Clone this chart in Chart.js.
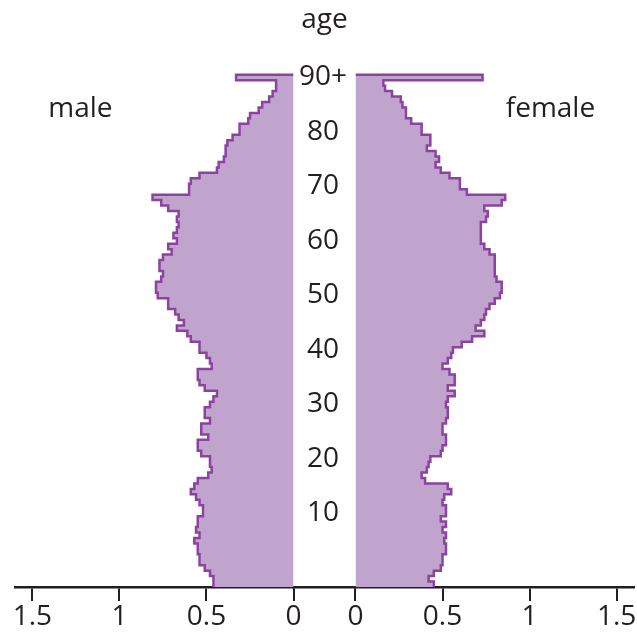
<!DOCTYPE html>
<html>
<head>
<meta charset="utf-8">
<script src="https://cdn.jsdelivr.net/npm/chart.js@4.4.1/dist/chart.umd.min.js"></script>
<style>
    html, body { margin: 0; padding: 0; background: #fff; }
    #pyramid { display: block; }
</style>
</head>
<body>
<canvas id="pyramid" width="637" height="641"></canvas>
<script>
// share of population by single year of age, lowest bar first, last bar is 90+
const male = [
    0.46, 0.46, 0.48, 0.51, 0.54, 0.54, 0.55, 0.55, 0.57, 0.54,
    0.56, 0.55, 0.55, 0.52, 0.52, 0.54, 0.56, 0.59, 0.57, 0.55,
    0.49, 0.47, 0.48, 0.48, 0.53, 0.55, 0.55, 0.49, 0.53, 0.53,
    0.48, 0.51, 0.51, 0.48, 0.46, 0.44, 0.51, 0.54, 0.55, 0.55,
    0.47, 0.48, 0.50, 0.54, 0.54, 0.59, 0.61, 0.67, 0.63, 0.66,
    0.68, 0.72, 0.72, 0.78, 0.79, 0.79, 0.76, 0.75, 0.77, 0.77,
    0.75, 0.70, 0.72, 0.67, 0.69, 0.67, 0.66, 0.67, 0.66, 0.72,
    0.76, 0.81, 0.60, 0.60, 0.59, 0.54, 0.44, 0.43, 0.40, 0.39,
    0.39, 0.38, 0.35, 0.31, 0.31, 0.26, 0.25, 0.20, 0.18, 0.14,
    0.12, 0.10, 0.10, 0.33
];
const female = [
    0.45, 0.42, 0.45, 0.49, 0.50, 0.50, 0.52, 0.52, 0.51, 0.52,
    0.50, 0.52, 0.49, 0.52, 0.52, 0.50, 0.51, 0.55, 0.53, 0.40,
    0.38, 0.41, 0.42, 0.43, 0.49, 0.50, 0.52, 0.52, 0.50, 0.50,
    0.52, 0.53, 0.53, 0.52, 0.53, 0.57, 0.53, 0.57, 0.57, 0.54,
    0.50, 0.53, 0.55, 0.56, 0.61, 0.67, 0.74, 0.69, 0.72, 0.74,
    0.75, 0.77, 0.80, 0.83, 0.84, 0.84, 0.81, 0.80, 0.80, 0.80,
    0.80, 0.77, 0.74, 0.72, 0.72, 0.72, 0.72, 0.75, 0.76, 0.74,
    0.84, 0.86, 0.64, 0.60, 0.60, 0.54, 0.49, 0.46, 0.48, 0.46,
    0.41, 0.43, 0.43, 0.38, 0.38, 0.32, 0.29, 0.29, 0.27, 0.26,
    0.21, 0.17, 0.16, 0.73
];
// in the source the bars start three years below the "0" position
const firstAge = -3;

const ageTicks = [10, 20, 30, 40, 50, 60, 70, 80, 90];
const ageLabels = ["10", "20", "30", "40", "50", "60", "70", "80", "90+"];
const shareTicks = [0, 0.5, 1, 1.5];

const INK = "#231f20";
const LINE = "#8c43a0";
const FILL = "#c0a4cd";
const FONT = "Open Sans";

Chart.defaults.font.family = FONT;
Chart.defaults.color = INK;

// bar i covers age firstAge+i +/- 0.5; stepped "after" keeps each value until the next edge
function stepPoints(values) {
    const pts = values.map((v, i) => ({ x: v, y: firstAge + i - 0.5 }));
    const top = firstAge + values.length - 0.5;
    pts.push({ x: values[values.length - 1], y: top });
    pts.push({ x: 0, y: top });
    return pts;
}

function shareAxis(reverse) {
    return {
        type: "linear",
        position: "bottom",
        stack: "x",
        stackWeight: 1.6,
        reverse: reverse,
        min: 0,
        max: 1.6,
        z: 1,
        afterBuildTicks: axis => { axis.ticks = shareTicks.map(v => ({ value: v })); },
        afterFit: axis => {
            axis.paddingLeft = 0;
            axis.paddingRight = 0;
        },
        grid: { drawOnChartArea: false, color: INK, lineWidth: 2, tickLength: 14 },
        border: { color: INK, width: 2.5 },
        ticks: {
            autoSkip: false,
            maxRotation: 0,
            padding: 2,
            font: { size: 28, lineHeight: 1 },
            color: INK,
            callback: v => String(v)
        }
    };
}

const sideLabels = {
    id: "sideLabels",
    afterDatasetsDraw(chart, args, opts) {
        const { ctx } = chart;
        const y = chart.scales.y.getPixelForValue(opts.age);
        ctx.save();
        ctx.font = "28px '" + FONT + "'";
        ctx.fillStyle = INK;
        ctx.textAlign = "center";
        ctx.textBaseline = "middle";
        chart.data.datasets.forEach((ds, i) => {
            const x = chart.scales[ds.xAxisID].getPixelForValue(opts.at[i]);
            ctx.fillText(ds.label, x, y);
        });
        ctx.restore();
    }
};

new Chart(document.getElementById("pyramid"), {
    type: "line",
    data: {
        datasets: [
            {
                label: "male",
                data: stepPoints(male),
                xAxisID: "xm",
                yAxisID: "y",
                stepped: "after",
                fill: "origin",
                backgroundColor: FILL,
                borderColor: LINE,
                borderWidth: 2.5,
                pointRadius: 0
            },
            {
                label: "female",
                data: stepPoints(female),
                xAxisID: "xf",
                yAxisID: "y",
                stepped: "after",
                fill: "origin",
                backgroundColor: FILL,
                borderColor: LINE,
                borderWidth: 2.5,
                pointRadius: 0
            }
        ]
    },
    options: {
        indexAxis: "y",
        responsive: false,
        animation: false,
        layout: { padding: { left: 15, right: 3, top: 0, bottom: 8 } },
        scales: {
            y: {
                type: "linear",
                position: "left",
                min: firstAge - 0.5,
                max: 97.5,
                afterBuildTicks: axis => { axis.ticks = ageTicks.map(v => ({ value: v })); },
                // labels are pushed into the middle gap; the axis itself takes no room
                afterFit: axis => {
                    axis.width = 0;
                    axis.paddingTop = 0;
                    axis.paddingBottom = 0;
                },
                grid: { display: false },
                border: { display: false },
                ticks: {
                    autoSkip: false,
                    mirror: true,
                    crossAlign: "center",
                    padding: 284,
                    font: { size: 28 },
                    color: INK,
                    callback: v => ageLabels[ageTicks.indexOf(v)]
                }
            },
            xm: shareAxis(true),
            // empty stretch under the age labels, only carries the axis line
            xgap: {
                type: "linear",
                position: "bottom",
                stack: "x",
                stackWeight: 0.356,
                min: 0,
                max: 1,
                z: 1,
                afterFit: axis => {
                    axis.paddingLeft = 0;
                    axis.paddingRight = 0;
                },
                grid: { display: false, drawTicks: false },
                border: { color: INK, width: 2.5 },
                ticks: { display: false }
            },
            xf: shareAxis(false)
        },
        plugins: {
            legend: { display: false },
            tooltip: { enabled: false },
            title: {
                display: true,
                text: "age",
                fullSize: false,
                color: INK,
                font: { size: 28, weight: "normal" },
                padding: { top: 3, bottom: 0 }
            },
            sideLabels: { age: 84.2, at: [1.224, 1.12] }
        }
    },
    plugins: [sideLabels]
});
</script>
</body>
</html>
